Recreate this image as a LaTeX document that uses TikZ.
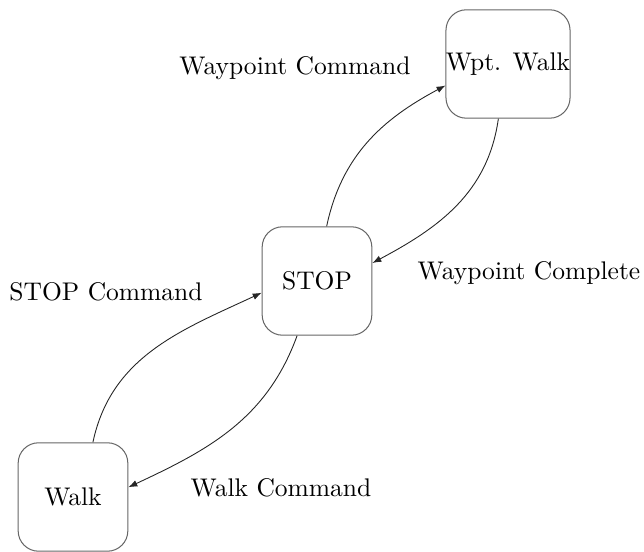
\documentclass[tikz,border=0pt]{standalone}
\usetikzlibrary{arrows.meta}
\begin{document}
\begin{tikzpicture}[x=0.392pt,y=0.392pt,
  state/.style={draw=black!60, rounded corners=8pt, minimum width=43pt, minimum height=42.5pt, inner sep=0pt},
  lbl/.style={inner sep=0pt},
  trans/.style={draw=black!85, line width=0.35pt, -{Latex[length=3.5pt,width=2.6pt]}}]
\useasboundingbox (0,0) rectangle (644,-552);
\node[state] (wpt) at (508,-64) {Wpt. Walk};
\node[state] (stop) at (317,-281) {STOP};
\node[state] (walk) at (73,-497) {Walk};
\node[lbl] (l1) at (295,-68) {Waypoint Command};
\node[lbl] (l2) at (529,-273) {Waypoint Complete};
\node[lbl] (l3) at (106,-292) {STOP Command};
\node[lbl] (l4) at (281,-488) {Walk Command};
\draw[trans] (stop.80) to[out=78,in=208] (wpt.199);
\draw[trans] (wpt.260) to[out=262,in=28] (stop.18);
\draw[trans] (walk.70) to[out=78,in=205] (stop.192);
\draw[trans] (stop.250) to[out=250,in=25] (walk.10);
\end{tikzpicture}
\end{document}
